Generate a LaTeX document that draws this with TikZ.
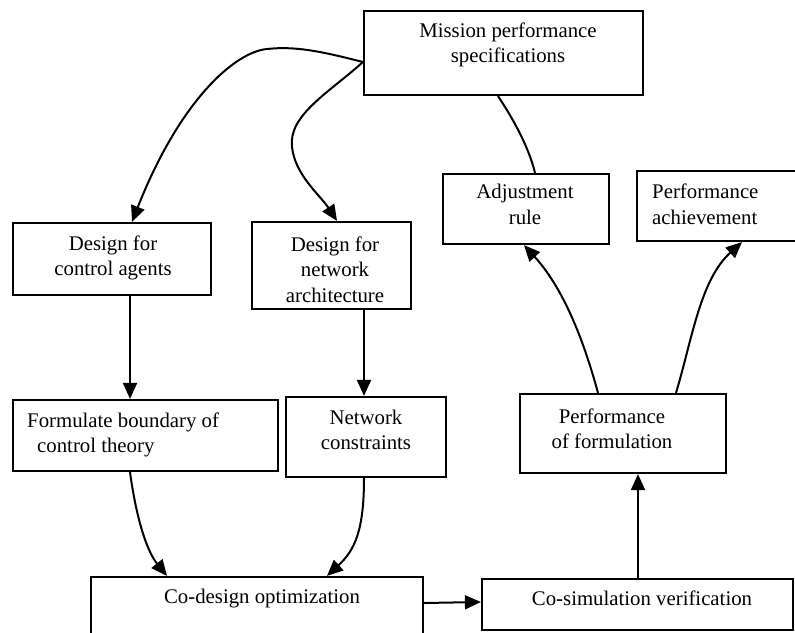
\documentclass[tikz,border=0pt]{standalone}
\usepackage{fontspec}
\setmainfont{Liberation Serif}
\usetikzlibrary{arrows.meta}
\begin{document}
\begin{tikzpicture}[x=1pt,y=-1pt,
  box/.style={draw, line width=2.2pt, rectangle, inner sep=0pt},
  lbl/.style={inner sep=0pt, font=\fontsize{20.8}{25.5}\selectfont, align=center},
  conn/.style={line width=2pt},
  arr/.style={conn, -{Triangle[length=16pt,width=14pt]}}]
\useasboundingbox (0,0) rectangle (795,632);
\clip (0,0) rectangle (795,632);
% boxes
\node[box, minimum width=279pt, minimum height=84pt] (mission) at (503.5,53) {};
\node[box, minimum width=166pt, minimum height=70pt] (adj) at (526,209) {};
\node[box, minimum width=163pt, minimum height=70pt] (ach) at (718.5,206) {};
\node[box, minimum width=198pt, minimum height=72pt] (dca) at (112,259) {};
\node[box, minimum width=159pt, minimum height=87pt] (dna) at (331.5,265.5) {};
\node[box, minimum width=265pt, minimum height=71pt] (form) at (145.5,435.5) {};
\node[box, minimum width=160pt, minimum height=80pt] (nc) at (366,437) {};
\node[box, minimum width=206pt, minimum height=79pt] (perf) at (623,433.5) {};
\node[box, minimum width=332pt, minimum height=63pt] (codesign) at (257,608.5) {};
\node[box, minimum width=311pt, minimum height=51pt] (cosim) at (637.5,604.5) {};
% labels
\node[lbl] (missiont) at (508,45) {Mission performance\\specifications};
\node[lbl] (adjt) at (525,204.5) {Adjustment\\rule};
\node[lbl, align=left, anchor=west] (acht) at (652,204.5) {Performance\\achievement};
\node[lbl] (dcat) at (113,258) {Design for\\control agents};
\node[lbl] (dnat) at (335,269.7) {Design for\\network\\architecture};
\node[lbl, align=left, anchor=west] (formt) at (27,434.75) {Formulate boundary of\\\hspace*{10pt}control theory};
\node[lbl] (nct) at (366,429.75) {Network\\constraints};
\node[lbl] (perft) at (612,428.75) {Performance\\of formulation};
\node[lbl, anchor=base] (codesignt) at (262,603) {Co-design optimization};
\node[lbl, anchor=base] (cosimt) at (642,605) {Co-simulation verification};
% connectors
\draw[arr] ([yshift=-9pt]mission.west) .. controls (320,51) and (295,46) .. (267,49)
   .. controls (235,52) and (180,100) .. ([xshift=20pt]dca.north);
\draw[arr] ([yshift=-9pt]mission.west) .. controls (330,92) and (288,115) .. (292,147)
   .. controls (295,175) and (320,195) .. ([xshift=5.5pt]dna.north);
\draw[conn] ([xshift=-5.5pt]mission.south) .. controls (514,120) and (529,148) .. ([xshift=9pt]adj.north);
\draw[arr] ([xshift=-25pt]perf.north) .. controls (585,345) and (565,290) .. ([xshift=-2pt]adj.south);
\draw[arr] ([xshift=53pt]perf.north) .. controls (692,340) and (700,280) .. ([xshift=23.5pt]ach.south);
\draw[arr] ([xshift=18pt]dca.south) -- ([xshift=-15.5pt]form.north);
\draw[arr] ([xshift=32.5pt]dna.south) -- ([xshift=-2pt]nc.north);
\draw[arr] ([xshift=-15.5pt]form.south) .. controls (138,530) and (150,555) .. ([xshift=-90pt]codesign.north);
\draw[arr] ([xshift=-2pt]nc.south) .. controls (364,530) and (355,550) .. ([xshift=70pt]codesign.north);
\draw[arr] ([yshift=5.5pt]codesign.east) -- ([yshift=2.5pt]cosim.west);
\draw[arr] ([xshift=0.5pt]cosim.north) -- ([xshift=15pt]perf.south);
\end{tikzpicture}
\end{document}
